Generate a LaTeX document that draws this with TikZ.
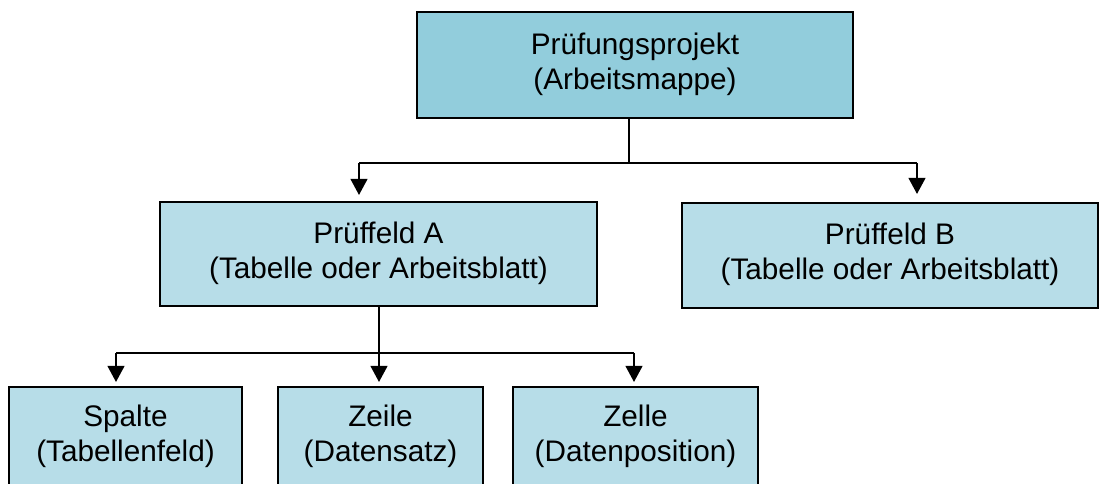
\documentclass[tikz,border=0pt]{standalone}
\usepackage{fontspec}
\setmainfont{Liberation Sans}
\usetikzlibrary{arrows.meta}
\definecolor{topfill}{HTML}{92CDDC}
\definecolor{boxfill}{HTML}{B7DDE8}
\begin{document}
\begin{tikzpicture}[x=0.75pt,y=-0.75pt,
  box/.style={draw=black,line width=1.5pt,fill=boxfill,inner sep=0pt,align=center,
    font=\fontsize{22.3pt}{26.25pt}\selectfont,
    execute at end node={\rule[-6pt]{0pt}{6pt}}},
  conn/.style={line width=1.5pt},
  arr/.style={line width=1.5pt,-{Triangle[width=12.5pt,length=12pt]}}]
\useasboundingbox (0,0) rectangle (1107,484);
\node[box,fill=topfill,minimum width=436*0.75pt,minimum height=106*0.75pt] (top) at (635,65) {Prüfungsprojekt\\(Arbeitsmappe)};
\node[box,minimum width=437*0.75pt,minimum height=104*0.75pt] (A) at (378.5,254) {Prüffeld A\\(Tabelle oder Arbeitsblatt)};
\node[box,minimum width=416*0.75pt,minimum height=105*0.75pt] (B) at (890,255.5) {Prüffeld B\\(Tabelle oder Arbeitsblatt)};
\node[box,minimum width=233*0.75pt,minimum height=100*0.75pt] (S) at (125.5,437) {Spalte\\(Tabellenfeld)};
\node[box,minimum width=205*0.75pt,minimum height=100*0.75pt] (Z) at (380.5,437) {Zeile\\(Datensatz)};
\node[box,minimum width=245*0.75pt,minimum height=100*0.75pt] (C) at (635.5,437) {Zelle\\(Datenposition)};
% level 1 connectors
\coordinate (j1) at (629,163);
\coordinate (l1) at (359,163);
\coordinate (r1) at (917,163);
\draw[conn] (top.south -| j1) -- (j1);
\draw[conn] (l1) -- (r1);
\draw[arr,shorten >=6*0.75pt] (l1) -- (A.north -| l1);
\draw[arr,shorten >=8*0.75pt] (r1) -- (B.north -| r1);
% level 2 connectors
\coordinate (j2) at (379,353);
\coordinate (l2) at (116,353);
\coordinate (r2) at (634,353);
\draw[conn] (A.south -| j2) -- (j2);
\draw[conn] (l2) -- (r2);
\draw[arr,shorten >=4*0.75pt] (l2) -- (S.north -| l2);
\draw[arr,shorten >=4*0.75pt] (j2) -- (Z.north -| j2);
\draw[arr,shorten >=4*0.75pt] (r2) -- (C.north -| r2);
\end{tikzpicture}
\end{document}
